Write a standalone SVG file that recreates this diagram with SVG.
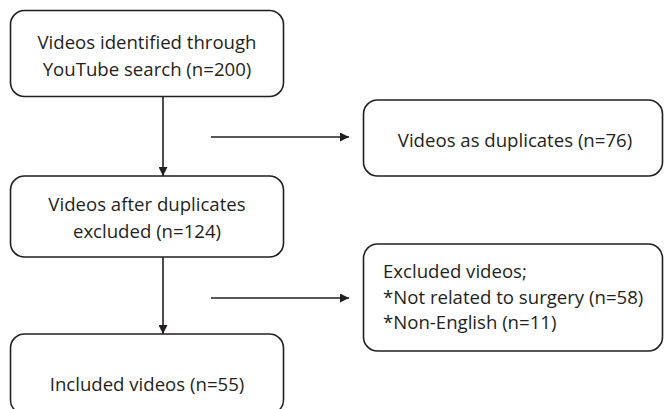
<svg xmlns="http://www.w3.org/2000/svg" width="664" height="409" viewBox="0 0 664 409">
<style>
.box{fill:#fff;stroke:#231f20;stroke-width:1.6}
.t{font-family:"Open Sans","Liberation Sans",sans-serif;font-size:18.6px;fill:#231f20}
.c{text-anchor:middle}
.ln{stroke:#231f20;stroke-width:1.6;fill:none}
</style>
<defs>
<marker id="ah" viewBox="0 0 10 10" refX="10" refY="5" markerWidth="9" markerHeight="9" markerUnits="userSpaceOnUse" orient="auto">
<path d="M0,0 L10,5 L0,10 z" fill="#231f20"/>
</marker>
</defs>
<rect width="664" height="409" fill="#fff"/>
<g id="n1">
<rect class="box" x="10.5" y="10.5" width="273" height="86" rx="14"/>
<text class="t c" x="147" y="49">Videos identified through</text>
<text class="t c" x="147" y="76">YouTube search (n=200)</text>
</g>
<g id="n2">
<rect class="box" x="10.5" y="176" width="273" height="81" rx="14"/>
<text class="t c" x="147" y="211">Videos after duplicates</text>
<text class="t c" x="147" y="238">excluded (n=124)</text>
</g>
<g id="n3">
<rect class="box" x="10.5" y="334" width="273" height="80" rx="14"/>
<text class="t c" x="147" y="391">Included videos (n=55)</text>
</g>
<g id="n4">
<rect class="box" x="363.5" y="100" width="299" height="76" rx="14"/>
<text class="t c" x="515" y="147">Videos as duplicates (n=76)</text>
</g>
<g id="n5">
<rect class="box" x="363.5" y="244" width="299" height="107" rx="14"/>
<text class="t" x="383" y="278">Excluded videos;</text>
<text class="t" x="383" y="304">*Not related to surgery (n=58)</text>
<text class="t" x="383" y="329">*Non-English (n=11)</text>
</g>
<g id="connectors">
<line class="ln" x1="163" y1="97" x2="163" y2="176" marker-end="url(#ah)"/>
<line class="ln" x1="163" y1="257" x2="163" y2="334" marker-end="url(#ah)"/>
<line class="ln" x1="211" y1="137" x2="349" y2="137" marker-end="url(#ah)"/>
<line class="ln" x1="211" y1="298" x2="349" y2="298" marker-end="url(#ah)"/>
</g>
</svg>
